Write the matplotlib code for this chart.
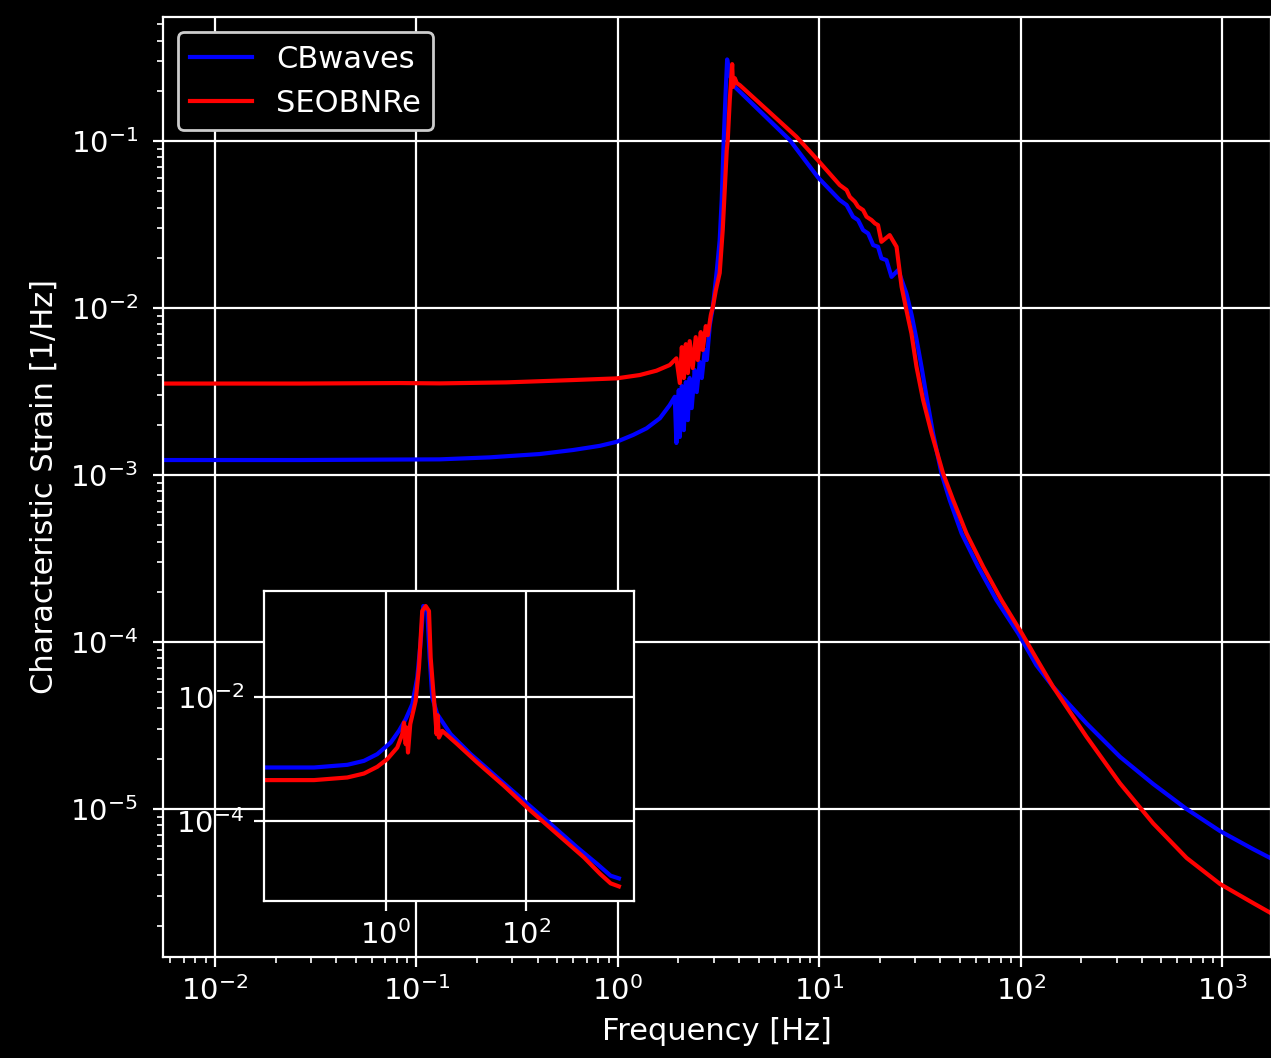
import numpy as np
import matplotlib
matplotlib.use("Agg")
import matplotlib.pyplot as plt
from matplotlib.ticker import NullLocator

# ---- data (log10 of frequency [Hz] and log10 of strain) ----
cb_log_f = [-2.259, -1.579, -1.082, -0.884, -0.636, -0.387, -0.222, -0.089, -0.006, 0.076,
            0.143, 0.209, 0.258, 0.283, 0.291, 0.303, 0.308, 0.318, 0.328, 0.338,
            0.348, 0.357, 0.367, 0.382, 0.392, 0.407, 0.417, 0.432, 0.442, 0.457,
            0.472, 0.492, 0.506, 0.516, 0.526, 0.536, 0.543, 0.556, 0.581, 0.854,
            0.993, 1.102, 1.136, 1.168, 1.193, 1.218, 1.243, 1.268, 1.292, 1.309,
            1.334, 1.359, 1.392, 1.433, 1.459, 1.484, 1.509, 1.534, 1.564, 1.607,
            1.648, 1.707, 1.789, 1.880, 1.988, 2.078, 2.161, 2.327, 2.493, 2.658,
            2.824, 2.990, 3.154, 3.242]
cb_log_h = [-2.910, -2.910, -2.907, -2.906, -2.894, -2.874, -2.850, -2.825, -2.801, -2.760,
            -2.720, -2.660, -2.581, -2.531, -2.808, -2.491, -2.772, -2.467, -2.731, -2.443,
            -2.671, -2.419, -2.599, -2.371, -2.503, -2.323, -2.419, -2.251, -2.311, -2.102,
            -1.994, -1.772, -1.593, -1.353, -0.994, -0.695, -0.511, -0.605, -0.675, -0.994,
            -1.216, -1.353, -1.383, -1.453, -1.473, -1.533, -1.553, -1.623, -1.633, -1.702,
            -1.713, -1.813, -1.772, -1.912, -2.042, -2.192, -2.359, -2.539, -2.743, -2.990,
            -3.150, -3.349, -3.549, -3.749, -3.948, -4.138, -4.268, -4.487, -4.687, -4.850,
            -5.000, -5.132, -5.240, -5.295]

seob_log_f = [-2.259, -1.579, -1.082, -0.884, -0.553, -0.222, -0.006, 0.109, 0.192, 0.258,
              0.291, 0.308, 0.318, 0.328, 0.338, 0.348, 0.357, 0.372, 0.387, 0.397,
              0.412, 0.422, 0.437, 0.447, 0.462, 0.472, 0.487, 0.506, 0.521, 0.531,
              0.541, 0.546, 0.556, 0.568, 0.572, 0.581, 0.591, 0.606, 0.887, 0.993,
              1.102, 1.136, 1.152, 1.177, 1.193, 1.218, 1.235, 1.260, 1.277, 1.292,
              1.309, 1.350, 1.384, 1.409, 1.433, 1.458, 1.483, 1.516, 1.558, 1.615,
              1.665, 1.731, 1.814, 1.905, 2.006, 2.078, 2.161, 2.327, 2.493, 2.658,
              2.824, 2.990, 3.154, 3.242]
seob_log_h = [-2.452, -2.452, -2.449, -2.451, -2.445, -2.431, -2.421, -2.401, -2.375, -2.341,
              -2.301, -2.449, -2.234, -2.419, -2.216, -2.389, -2.198, -2.359, -2.174, -2.311,
              -2.144, -2.251, -2.108, -2.162, -2.042, -1.994, -1.892, -1.790, -1.533, -1.293,
              -1.054, -0.994, -0.754, -0.539, -0.675, -0.623, -0.653, -0.665, -0.974, -1.114,
              -1.263, -1.293, -1.334, -1.363, -1.393, -1.413, -1.453, -1.473, -1.493, -1.503,
              -1.603, -1.563, -1.633, -1.872, -2.012, -2.152, -2.351, -2.551, -2.750, -2.990,
              -3.150, -3.349, -3.549, -3.749, -3.948, -4.098, -4.268, -4.567, -4.846, -5.086,
              -5.293, -5.449, -5.563, -5.623]

# inset curves
cb_in_log_f = [-1.709, -1.021, -0.547, -0.309, -0.120, 0.071, 0.189, 0.285, 0.379, 0.450,
               0.499, 0.536, 0.593, 0.627, 0.664, 0.735, 0.926, 1.211, 1.590, 1.970,
               2.350, 2.729, 3.014, 3.205, 3.323]
cb_in_log_h = [-3.141, -3.141, -3.098, -3.034, -2.926, -2.740, -2.551, -2.363, -2.122, -1.695,
               -1.105, -0.542, -0.622, -1.373, -2.016, -2.283, -2.605, -2.926, -3.302, -3.677,
               -4.051, -4.428, -4.695, -4.883, -4.926]
seob_in_log_f = [-1.709, -1.021, -0.547, -0.309, -0.120, 0.023, 0.165, 0.236, 0.261, 0.285,
                 0.299, 0.318, 0.350, 0.427, 0.474, 0.521, 0.570, 0.617, 0.641, 0.678,
                 0.698, 0.726, 0.740, 0.759, 0.806, 1.020, 1.305, 1.685, 2.066, 2.444,
                 2.825, 3.057, 3.205, 3.323]
seob_in_log_h = [-3.344, -3.344, -3.302, -3.238, -3.130, -3.006, -2.820, -2.605, -2.418, -2.765,
                 -2.498, -2.900, -2.444, -2.069, -1.534, -0.622, -0.542, -0.622, -1.373, -1.908,
                 -2.177, -2.605, -2.300, -2.659, -2.551, -2.765, -3.061, -3.436, -3.838, -4.212,
                 -4.588, -4.855, -5.006, -5.055]

labels = ["CBwaves", "SEOBNRe"]
colors = ["blue", "red"]

plt.style.use("dark_background")
plt.rcParams["font.family"] = ["DejaVu Sans"]

fig = plt.figure(figsize=(6.355, 5.29), dpi=200)
ax = fig.add_axes([0.1282, 0.0955, 0.8718, 0.8884])

ax.loglog(10 ** np.array(cb_log_f), 10 ** np.array(cb_log_h), color=colors[0], lw=1.5, label=labels[0])
ax.loglog(10 ** np.array(seob_log_f), 10 ** np.array(seob_log_h), color=colors[1], lw=1.5, label=labels[1])
ax.set_xlim(10 ** -2.258, 10 ** 3.243)
ax.set_ylim(10 ** -5.886, 10 ** -0.257)
ax.grid(True, which="major", color="white", lw=0.8)
ax.set_xlabel("Frequency [Hz]", fontsize=11)
ax.set_ylabel("Characteristic Strain [1/Hz]", fontsize=11)
ax.tick_params(labelsize=10.5)
ax.tick_params(axis="y", which="major", pad=5.5)
ax.legend(loc="upper left", fontsize=11, facecolor="black", edgecolor="#cccccc", framealpha=1)

axin = fig.add_axes([0.2077, 0.1484, 0.2911, 0.2930])
axin.loglog(10 ** np.array(cb_in_log_f), 10 ** np.array(cb_in_log_h), color=colors[0], lw=1.5)
axin.loglog(10 ** np.array(seob_in_log_f), 10 ** np.array(seob_in_log_h), color=colors[1], lw=1.5)
axin.set_xlim(10 ** -1.734, 10 ** 3.538)
axin.set_ylim(10 ** -5.29, 10 ** -0.30)
axin.set_xticks([1, 100])
axin.set_yticks([1e-2, 1e-4])
axin.xaxis.set_minor_locator(NullLocator())
axin.yaxis.set_minor_locator(NullLocator())
axin.tick_params(labelsize=10.5)
axin.grid(True, which="major", color="white", lw=0.8)
axin.set_facecolor("black")

fig.savefig("out.png", dpi=200, facecolor="black")
